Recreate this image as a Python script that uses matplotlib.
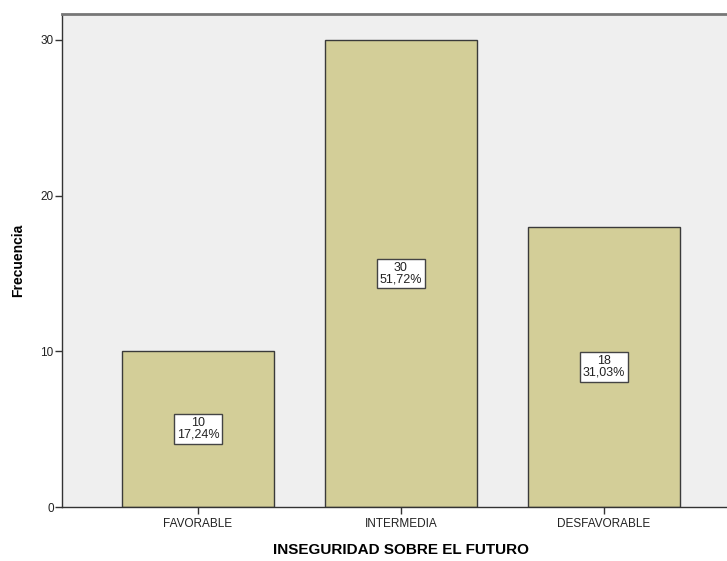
import matplotlib
matplotlib.use("Agg")
import matplotlib.pyplot as plt

# data
categorias = ["FAVORABLE", "INTERMEDIA", "DESFAVORABLE"]
frecuencias = [10, 30, 18]
porcentajes = ["17,24%", "51,72%", "31,03%"]

plt.rcParams['font.family'] = ['Liberation Sans', 'DejaVu Sans']

fig = plt.figure(figsize=(7.27, 5.61), dpi=100)
ax = fig.add_axes([62 / 727, 54 / 561, 665 / 727, 493 / 561])
ax.set_facecolor("#EFEFEF")

x = range(len(categorias))
ax.bar(x, frecuencias, width=0.75, color="#D3CE98", edgecolor="#3A3A3A", linewidth=1, zorder=2)

for i, (f, p) in enumerate(zip(frecuencias, porcentajes)):
    ax.text(i, f / 2, f"{f}\n{p}", ha="center", va="center", fontsize=9, color="#222222",
            linespacing=0.95, zorder=3,
            bbox=dict(boxstyle="square,pad=0.25", facecolor="white", edgecolor="#444444", linewidth=1))

ax.set_xlim(-0.67, 2.606)
ax.set_ylim(0, 31.67)
ax.set_yticks([0, 10, 20, 30])
ax.set_xticks(list(x))
ax.set_xticklabels(categorias, fontsize=8.5, color="#222222")
ax.tick_params(axis="y", labelsize=8.5, length=5, width=1, color="#333333", labelcolor="#222222", pad=1)
ax.tick_params(axis="x", length=5, width=1, color="#333333", pad=3)

for s in ["left", "bottom"]:
    ax.spines[s].set_color("#333333")
    ax.spines[s].set_linewidth(1)
ax.spines["right"].set_visible(False)
ax.spines["top"].set_color("#777777")
ax.spines["top"].set_linewidth(2)

ax.set_ylabel("Frecuencia", fontsize=10, fontweight="bold")
ax.yaxis.set_label_coords(-37 / 665, 0.5)
ax.set_xlabel("INSEGURIDAD SOBRE EL FUTURO", fontsize=11, fontweight="bold", va="center")
ax.xaxis.set_label_coords((401 - 62) / 665, -43 / 493)

fig.savefig("out.png", dpi=100)
